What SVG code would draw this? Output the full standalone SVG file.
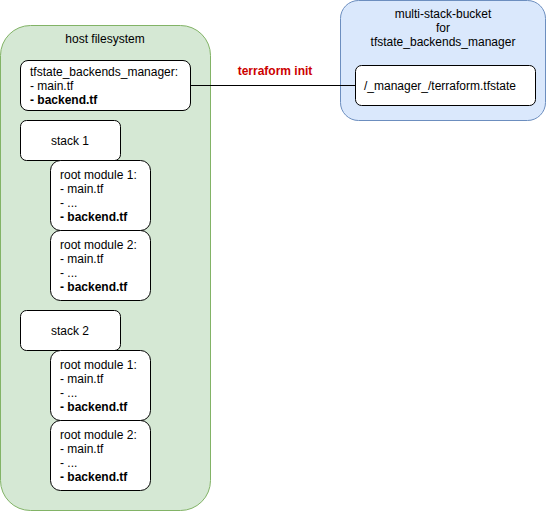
<svg xmlns="http://www.w3.org/2000/svg" width="546" height="511" viewBox="0 0 546 511">
  <style>
    text { font-family: "Liberation Sans", Arial, Helvetica, sans-serif; font-size: 12px; fill: #000; }
    .b { font-weight: bold; }
    .c { text-anchor: middle; }
    .box { fill: #ffffff; stroke: #000000; stroke-width: 1; }
    .host { fill: #d5e8d4; stroke: #82b366; stroke-width: 1; }
    .bucket { fill: #dae8fc; stroke: #6c8ebf; stroke-width: 1; }
    .edge { fill: none; stroke: #000000; stroke-width: 1; }
    .lbl { font-weight: bold; fill: #cc0000; }
  </style>

  <!-- containers -->
  <g id="host-filesystem">
    <rect class="host" x="0.5" y="25.5" width="210" height="485" rx="30" ry="30"/>
    <text class="c" x="105" y="43">host filesystem</text>
  </g>
  <g id="multi-stack-bucket">
    <rect class="bucket" x="340.5" y="0.5" width="205" height="120" rx="18" ry="18"/>
    <text class="c" x="443" y="18">multi-stack-bucket</text>
    <text class="c" x="443" y="32">for</text>
    <text class="c" x="443" y="46">tfstate_backends_manager</text>
  </g>

  <!-- connectors -->
  <g id="connectors">
    <path class="edge" d="M190.5 85.5 H355.5"/>
    <text class="lbl c" x="275" y="75">terraform init</text>
  </g>

  <g id="manager">
    <rect class="box" x="20.5" y="60.5" width="170" height="50" rx="7.5" ry="7.5"/>
    <text x="30" y="76">tfstate_backends_manager:</text>
    <text x="30" y="90">- main.tf</text>
    <text class="b" x="30" y="104">- backend.tf</text>
  </g>

  <g id="state-file">
    <rect class="box" x="355.5" y="65.5" width="180" height="40" rx="6" ry="6"/>
    <text class="c" x="440" y="90">/_manager_/terraform.tfstate</text>
  </g>

  <g id="stack-1">
    <rect class="box" x="20.5" y="120.5" width="100" height="40" rx="6" ry="6"/>
    <text class="c" x="70" y="145">stack 1</text>
  </g>
  <g id="stack-1-module-1">
    <rect class="box" x="50.5" y="160.5" width="100" height="70" rx="10" ry="10"/>
    <text x="60" y="179">root module 1:</text>
    <text x="60" y="193">- main.tf</text>
    <text x="60" y="207">- ...</text>
    <text class="b" x="60" y="221">- backend.tf</text>
  </g>
  <g id="stack-1-module-2">
    <rect class="box" x="50.5" y="230.5" width="100" height="70" rx="10" ry="10"/>
    <text x="60" y="249">root module 2:</text>
    <text x="60" y="263">- main.tf</text>
    <text x="60" y="277">- ...</text>
    <text class="b" x="60" y="291">- backend.tf</text>
  </g>

  <g id="stack-2">
    <rect class="box" x="20.5" y="310.5" width="100" height="40" rx="6" ry="6"/>
    <text class="c" x="70" y="335">stack 2</text>
  </g>
  <g id="stack-2-module-1">
    <rect class="box" x="50.5" y="350.5" width="100" height="70" rx="10" ry="10"/>
    <text x="60" y="369">root module 1:</text>
    <text x="60" y="383">- main.tf</text>
    <text x="60" y="397">- ...</text>
    <text class="b" x="60" y="411">- backend.tf</text>
  </g>
  <g id="stack-2-module-2">
    <rect class="box" x="50.5" y="420.5" width="100" height="70" rx="10" ry="10"/>
    <text x="60" y="439">root module 2:</text>
    <text x="60" y="453">- main.tf</text>
    <text x="60" y="467">- ...</text>
    <text class="b" x="60" y="481">- backend.tf</text>
  </g>
</svg>
